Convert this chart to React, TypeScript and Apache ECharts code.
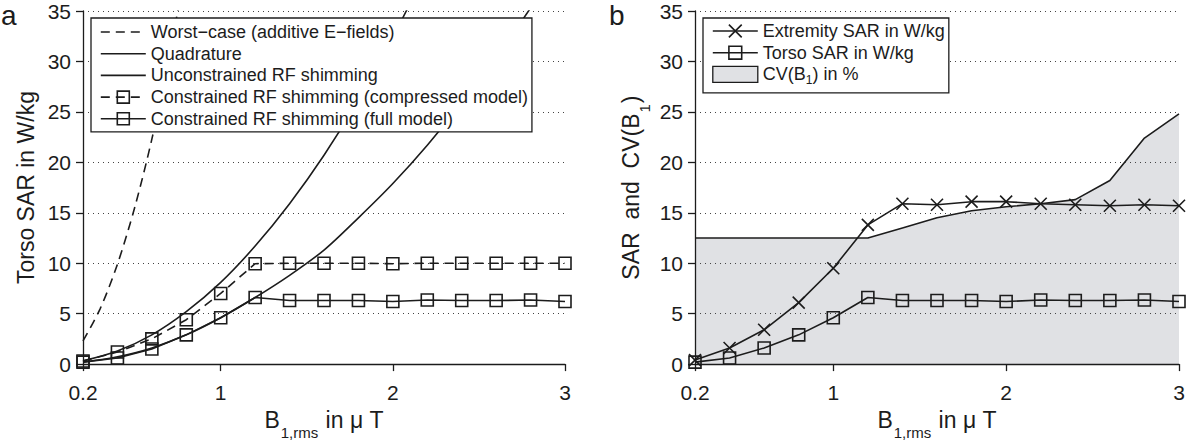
import { useEffect, useRef } from "react";
import * as echarts from "echarts";

const FONT = "Liberation Sans, Arial, Helvetica, sans-serif";
const INK = "#1c1c1c";
const SHADE = "#e0e1e4";
const CLEAR = "rgba(0,0,0,0)";

// B1,rms sample points (µT)
const b1 = [0.2, 0.4, 0.6, 0.8, 1.0, 1.2, 1.4, 1.6, 1.8, 2.0, 2.2, 2.4, 2.6, 2.8, 3.0];
const xTickValues = [0.2, 1, 2, 3];

// Panel a: torso SAR (W/kg)
const worstB1 = [0.2, 0.3, 0.4, 0.5, 0.6, 0.7, 0.8];
const worstCase = [2.3, 5.5, 9.9, 15.5, 22.3, 30.4, 39.7];
const quadrature = [0.32, 1.3, 2.9, 5.2, 8.1, 11.7, 15.9, 20.7, 26.2, 32.4, 39.2];
const unconstrained = [0.18, 0.72, 1.6, 2.9, 4.6, 6.6, 8.8, 11.3, 14.5, 17.9, 21.7, 25.9, 30.4, 35.3, 40.5];
const compressedModel = [0.3, 1.2, 2.5, 4.4, 7.0, 9.95, 10.0, 10.0, 10.0, 9.95, 10.0, 10.0, 10.0, 10.0, 10.0];
const fullModel = [0.2, 0.6, 1.5, 2.9, 4.6, 6.6, 6.3, 6.3, 6.3, 6.2, 6.35, 6.3, 6.3, 6.35, 6.2];

// Panel b: SAR (W/kg) and CV(B1) (%)
const extremitySar = [0.4, 1.6, 3.4, 6.1, 9.5, 13.8, 15.9, 15.8, 16.1, 16.1, 15.9, 15.8, 15.7, 15.8, 15.7];
const torsoSar = [0.2, 0.6, 1.6, 2.9, 4.6, 6.6, 6.3, 6.3, 6.3, 6.2, 6.35, 6.3, 6.3, 6.35, 6.2];
const cvB1 = [12.5, 12.5, 12.5, 12.5, 12.5, 12.5, 13.5, 14.5, 15.2, 15.6, 15.9, 16.3, 18.2, 22.4, 24.8];

const NAMES_A = [
  "Worst−case (additive E−fields)",
  "Quadrature",
  "Unconstrained RF shimming",
  "Constrained RF shimming (compressed model)",
  "Constrained RF shimming (full model)",
];
const NAMES_B = ["Extremity SAR in W/kg", "Torso SAR in W/kg", "CV(B1) in %"];

const pair = (xv: number[], yv: number[]) => yv.map((y, i) => [xv[i], y]);

const CROSS = "path://M0,0L10,10M0,10L10,0";
const DASH = [9, 6];
const LW = 1.6;

const richSub = (pad: number) => ({
  m: { fontSize: 23, fontFamily: FONT, color: INK, verticalAlign: "top", lineHeight: 26 },
  s: { fontSize: 15, fontFamily: FONT, color: INK, verticalAlign: "top", lineHeight: 15, padding: [pad, 1, 0, 1] },
});

const xAxis = (gridIndex: number) => ({
  type: "value",
  gridIndex,
  min: 0.2,
  max: 3,
  z: 1,
  axisLine: { show: true, onZero: false, lineStyle: { color: INK, width: 1.3 } },
  axisTick: { show: true, length: 7, customValues: xTickValues, lineStyle: { color: INK, width: 1.3 } },
  axisLabel: { customValues: xTickValues, fontSize: 21, color: INK, fontFamily: FONT, margin: 18 },
  splitLine: { show: false },
  name: "{m|B}{s|1,rms}{m| in μ T}",
  nameLocation: "middle",
  nameGap: 39,
  nameTextStyle: { color: INK, fontFamily: FONT, rich: richSub(17) },
});

const yAxis = (gridIndex: number, name: string, nameGap: number) => ({
  type: "value",
  gridIndex,
  min: 0,
  max: 35,
  interval: 5,
  z: 1,
  axisLine: { show: true, onZero: false, lineStyle: { color: INK, width: 1.3 } },
  axisTick: { show: true, length: 7, lineStyle: { color: INK, width: 1.3 } },
  axisLabel: { fontSize: 21, color: INK, fontFamily: FONT, margin: 12 },
  splitLine: { show: true, lineStyle: { type: [1, 4], color: "#444", width: 1 } },
  name,
  nameLocation: "middle",
  nameGap,
  nameTextStyle: { color: INK, fontFamily: FONT, fontSize: 23, rich: richSub(18) },
});

const plainLine = (name: string, data: number[][], dashed: boolean, axis: number) => ({
  name,
  type: "line",
  xAxisIndex: axis,
  yAxisIndex: axis,
  data,
  symbol: "none",
  smooth: 0.3,
  clip: true,
  lineStyle: { color: INK, width: LW, type: dashed ? DASH : "solid" },
  itemStyle: { color: INK },
  z: 2,
});

const markedLine = (name: string, data: number[][], symbol: string, dashed: boolean, axis: number) => ({
  name,
  type: "line",
  xAxisIndex: axis,
  yAxisIndex: axis,
  data,
  symbol,
  symbolSize: 12,
  showAllSymbol: true,
  clip: true,
  lineStyle: { color: INK, width: LW, type: dashed ? DASH : "solid" },
  itemStyle: { color: CLEAR, borderColor: INK, borderWidth: LW },
  z: 3,
});

const legendLineOnly = (name: string, dashed: boolean) => ({
  name,
  itemStyle: { color: CLEAR, borderColor: CLEAR, borderWidth: 0 },
  lineStyle: { color: INK, width: LW, type: dashed ? DASH : "solid" },
});
const legendMarked = (name: string, dashed: boolean) => ({
  name,
  itemStyle: { color: CLEAR, borderColor: INK, borderWidth: LW },
  lineStyle: { color: INK, width: LW, type: dashed ? DASH : "solid" },
});

const legendBase = {
  orient: "vertical",
  selectedMode: false,
  backgroundColor: "#fff",
  borderColor: INK,
  borderWidth: 1.3,
  itemWidth: 45,
  itemHeight: 15,
  itemGap: 3.7,
  textStyle: {
    fontSize: 18,
    fontFamily: FONT,
    color: INK,
    rich: {
      s: { fontSize: 12, fontFamily: FONT, color: INK, padding: [11, 0, 0, 0] },
    },
  },
  z: 10,
};

const option = {
  animation: false,
  backgroundColor: "#fff",
  grid: [
    { left: 83, top: 11, width: 482, height: 355 },
    { left: 695, top: 11, width: 484, height: 355 },
  ],
  xAxis: [xAxis(0), xAxis(1)],
  yAxis: [
    yAxis(0, "Torso SAR in W/kg", 46),
    yAxis(1, "{m|SAR  and  CV(B}{s|1}{m|)}", 50),
  ],
  legend: [
    {
      ...legendBase,
      left: 91,
      top: 18,
      padding: [5, 4, 4, 9],
      data: [
        legendLineOnly(NAMES_A[0], true),
        legendLineOnly(NAMES_A[1], false),
        legendLineOnly(NAMES_A[2], false),
        legendMarked(NAMES_A[3], true),
        legendMarked(NAMES_A[4], false),
      ],
    },
    {
      ...legendBase,
      left: 703,
      top: 18,
      itemHeight: 16,
      padding: [4, 4, 7, 9],
      formatter: (name: string) => (name === NAMES_B[2] ? "CV(B{s|1}) in %" : name),
      data: [
        legendMarked(NAMES_B[0], false),
        legendMarked(NAMES_B[1], false),
        {
          name: NAMES_B[2],
          icon: "rect",
          itemStyle: { color: SHADE, borderColor: INK, borderWidth: 1.3 },
        },
      ],
    },
  ],
  graphic: [
    { type: "text", x: 1, y: 1, style: { text: "a", font: `28px ${FONT}`, fill: INK, verticalAlign: "top" } },
    { type: "text", x: 609, y: 1, style: { text: "b", font: `28px ${FONT}`, fill: INK, verticalAlign: "top" } },
  ],
  series: [
    plainLine(NAMES_A[0], pair(worstB1, worstCase), true, 0),
    plainLine(NAMES_A[1], pair(b1, quadrature), false, 0),
    plainLine(NAMES_A[2], pair(b1, unconstrained), false, 0),
    markedLine(NAMES_A[3], pair(b1, compressedModel), "rect", true, 0),
    markedLine(NAMES_A[4], pair(b1, fullModel), "rect", false, 0),
    {
      name: NAMES_B[2],
      type: "line",
      xAxisIndex: 1,
      yAxisIndex: 1,
      data: pair(b1, cvB1),
      symbol: "none",
      lineStyle: { color: INK, width: LW },
      itemStyle: { color: SHADE },
      areaStyle: { color: SHADE, opacity: 1 },
      z: 0,
    },
    markedLine(NAMES_B[0], pair(b1, extremitySar), CROSS, false, 1),
    markedLine(NAMES_B[1], pair(b1, torsoSar), "rect", false, 1),
  ],
};

export default function App() {
  const ref = useRef<HTMLDivElement>(null);
  useEffect(() => {
    const chart = echarts.init(ref.current!, null, { renderer: "svg" });
    chart.setOption(option as any);
    return () => chart.dispose();
  }, []);
  return (
    <div
      ref={ref}
      style={{ position: "fixed", left: 0, top: 0, width: 1189, height: 445, background: "#fff" }}
    />
  );
}
